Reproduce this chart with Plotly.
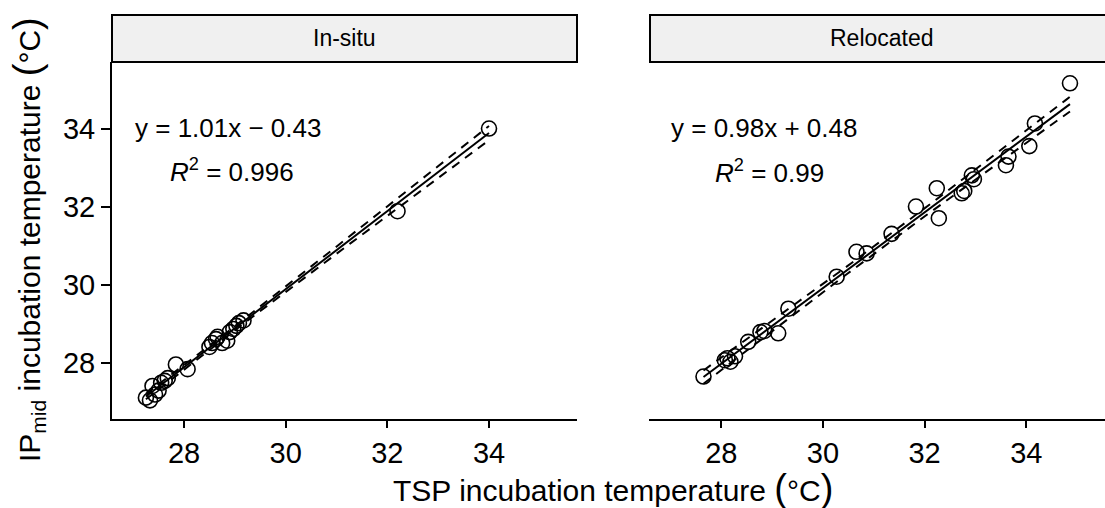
import numpy as np
import plotly.graph_objects as go

# ---------------- data ----------------
panels = ["In-situ", "Relocated"]

tsp_insitu = [27.25, 27.33, 27.38, 27.43, 27.50, 27.55, 27.62, 27.68, 27.84, 28.07,
              28.50, 28.55, 28.63, 28.66, 28.75, 28.85, 28.90, 28.97, 29.03, 29.08,
              29.17, 32.20, 34.00]
ip_insitu = [27.12, 27.05, 27.42, 27.20, 27.30, 27.50, 27.55, 27.62, 27.97, 27.85,
             28.42, 28.52, 28.62, 28.68, 28.52, 28.58, 28.80, 28.88, 28.96, 29.03,
             29.10, 31.90, 34.02]

tsp_reloc = [27.65, 28.07, 28.12, 28.18, 28.27, 28.53, 28.77, 28.85, 29.12, 29.32,
             30.27, 30.66, 30.86, 31.35, 31.83, 32.24, 32.28, 32.73, 32.78, 32.93,
             32.97, 33.60, 33.65, 34.06, 34.17, 34.86]
ip_reloc = [27.66, 28.08, 28.13, 28.04, 28.18, 28.55, 28.80, 28.83, 28.77, 29.40,
            30.22, 30.86, 30.82, 31.32, 32.02, 32.49, 31.72, 32.36, 32.42, 32.82,
            32.72, 33.08, 33.30, 33.57, 34.15, 35.18]

eq_labels = ["y = 1.01x \u2212 0.43", "y = 0.98x + 0.48"]
r2_labels = ["0.996", "0.99"]
tick_vals = [28, 30, 32, 34]
tick_text = ["28", "30", "32", "34"]

W, H = 1105, 508
FONT = "Liberation Sans, Arial, Helvetica, sans-serif"


def t_quantile(df, p=0.975):
    z = 1.959964
    return (z + (z**3 + z) / (4 * df) + (5 * z**5 + 16 * z**3 + 3 * z) / (96 * df**2)
            + (3 * z**7 + 19 * z**5 + 17 * z**3 - 15 * z) / (384 * df**3))


def fit_band(x, y, npts=80):
    x = np.asarray(x, float)
    y = np.asarray(y, float)
    n = len(x)
    b, a = np.polyfit(x, y, 1)
    resid = y - (a + b * x)
    s = np.sqrt(np.sum(resid**2) / (n - 2))
    xbar = x.mean()
    sxx = np.sum((x - xbar) ** 2)
    xs = np.linspace(x.min(), x.max(), npts)
    yh = a + b * xs
    se = s * np.sqrt(1.0 / n + (xs - xbar) ** 2 / sxx)
    t = t_quantile(n - 2)
    return xs, yh, yh - t * se, yh + t * se


fig = go.Figure()
data = [(tsp_insitu, ip_insitu), (tsp_reloc, ip_reloc)]
axes = [("x", "y"), ("x2", "y2")]

for (xv, yv), (xa, ya) in zip(data, axes):
    fig.add_trace(go.Scatter(
        x=xv, y=yv, mode="markers", xaxis=xa, yaxis=ya, showlegend=False,
        marker=dict(symbol="circle-open", size=15, color="black",
                    line=dict(width=1.6, color="black"))))
    xs, yh, lo, hi = fit_band(xv, yv)
    for yy in (lo, hi):
        fig.add_trace(go.Scatter(
            x=xs, y=yy, mode="lines", xaxis=xa, yaxis=ya, showlegend=False,
            line=dict(color="black", width=2, dash="9px,7px")))
    fig.add_trace(go.Scatter(
        x=xs, y=yh, mode="lines", xaxis=xa, yaxis=ya, showlegend=False,
        line=dict(color="black", width=2)))

# panel geometry (pixels)
L_x0, L_x1 = 112, 577
R_x0 = 649.3
P_top, P_bot = 62, 419
S_top = 15

common_ax = dict(showgrid=False, zeroline=False, showline=True, linecolor="black",
                 linewidth=2, ticks="outside", tickcolor="black", tickwidth=2,
                 tickfont=dict(family=FONT, size=29, color="black"),
                 tickvals=tick_vals, ticktext=tick_text)

ydom = [(H - P_bot) / H, (H - P_top) / H]

fig.update_layout(
    width=W, height=H, margin=dict(l=0, r=0, t=0, b=0),
    paper_bgcolor="white", plot_bgcolor="white",
    font=dict(family=FONT, color="black"),
    xaxis=dict(domain=[L_x0 / W, L_x1 / W], range=[26.583, 35.731], anchor="y",
               ticklen=7, **common_ax),
    yaxis=dict(domain=ydom, range=[26.572, 35.726], anchor="x",
               ticklen=9, **common_ax),
    xaxis2=dict(domain=[R_x0 / W, 1.0], range=[26.584, 35.549], anchor="y2",
                ticklen=7, **common_ax),
    yaxis2=dict(domain=ydom, range=[26.572, 35.726], anchor="x2", visible=False),
)

# strips
strip_x = [(L_x0, L_x1), (650, 1114)]
for (sx0, sx1), lab in zip(strip_x, panels):
    fig.add_shape(type="rect", xref="paper", yref="paper",
                  x0=sx0 / W, x1=sx1 / W, y0=(H - P_top) / H, y1=(H - S_top) / H,
                  fillcolor="#F0F0F0", line=dict(color="black", width=2), layer="above")
    fig.add_annotation(xref="paper", yref="paper", x=(sx0 + sx1) / 2 / W,
                       y=(H - (S_top + P_top) / 2) / H, text=lab, showarrow=False,
                       xanchor="center", yanchor="middle",
                       font=dict(family=FONT, size=23, color="black"))

# equations
eq_pos = [(133, 128), (669, 128)]
r2_pos = [(168, 171), (713, 172)]
for (ex, ey), (rx, ry), eq, r2 in zip(eq_pos, r2_pos, eq_labels, r2_labels):
    fig.add_annotation(xref="paper", yref="paper", x=ex / W, y=(H - ey) / H,
                       text=eq, showarrow=False, xanchor="left", yanchor="middle",
                       font=dict(family=FONT, size=26, color="black"))
    fig.add_annotation(xref="paper", yref="paper", x=rx / W, y=(H - ry) / H,
                       text="<i>R</i><sup>2</sup> = " + r2, showarrow=False,
                       xanchor="left", yanchor="middle",
                       font=dict(family=FONT, size=26, color="black"))

# axis titles
big = '<span style="font-size:38px">%s</span>'
fig.add_annotation(xref="paper", yref="paper", x=613 / W, y=(H - 488) / H,
                   text="TSP incubation temperature " + big % "(" + "\u00b0C" + big % ")",
                   showarrow=False, xanchor="center", yanchor="middle",
                   font=dict(family=FONT, size=30, color="black"))
fig.add_annotation(xref="paper", yref="paper", x=28 / W, y=(H - 240) / H,
                   text="IP<sub>mid</sub> incubation temperature " + big % "(" + "\u00b0C" + big % ")",
                   showarrow=False, xanchor="center", yanchor="middle", textangle=-90,
                   font=dict(family=FONT, size=30, color="black"))

fig.write_html("out.html")
